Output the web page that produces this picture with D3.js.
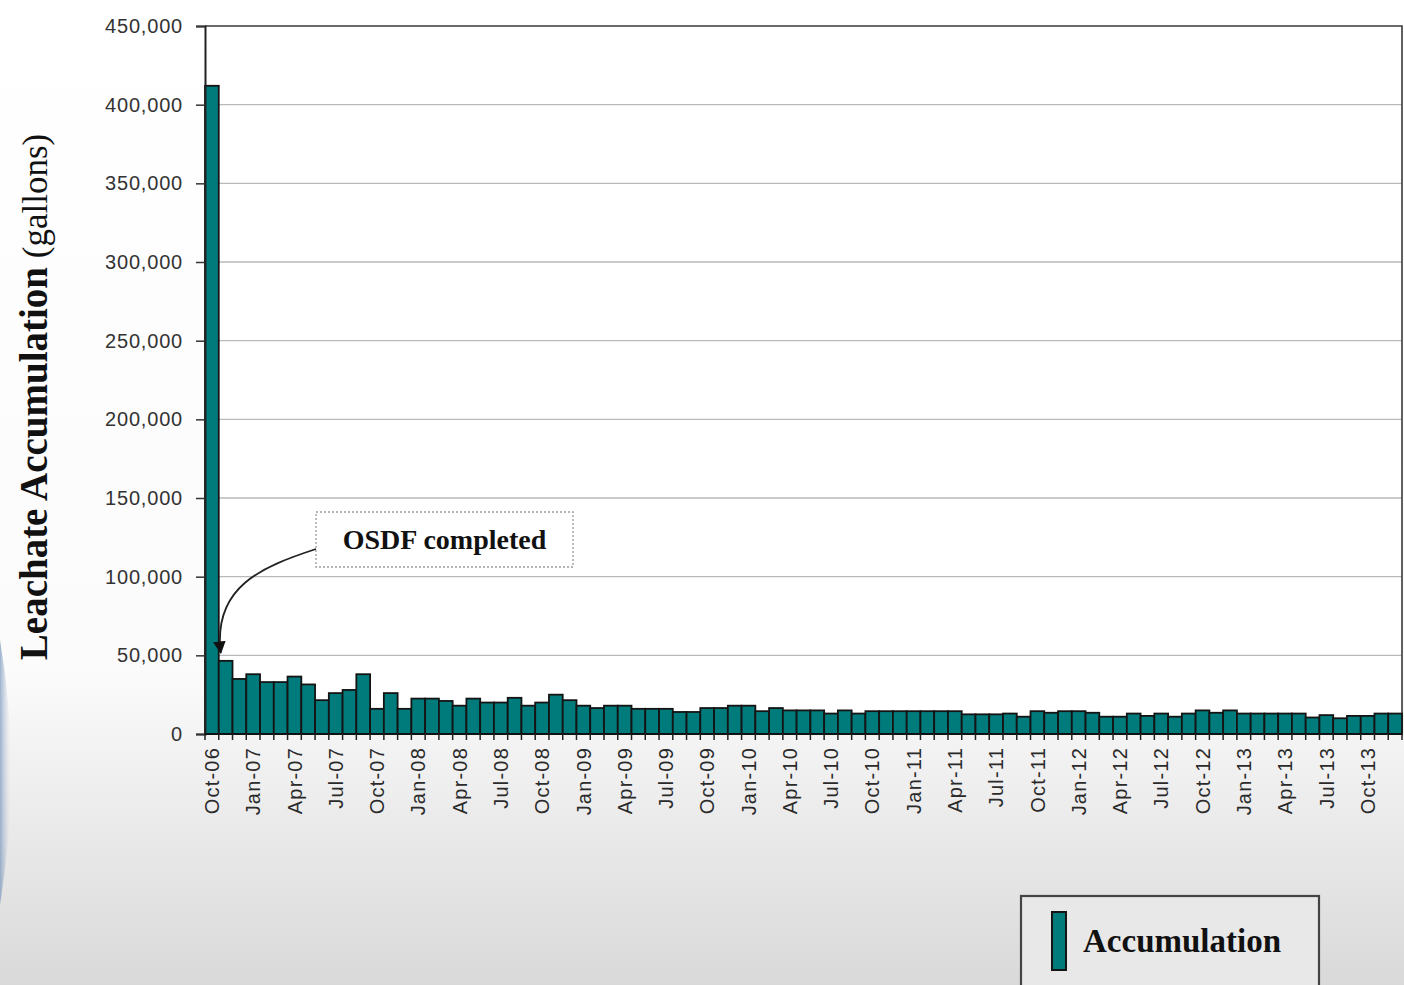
<!DOCTYPE html>
<html>
<head>
<meta charset="utf-8">
<script src="https://cdn.jsdelivr.net/npm/d3@7"></script>
<style>
  html, body { margin: 0; padding: 0; background: #fff; }
  svg { display: block; }
</style>
</head>
<body>
<svg id="chart" width="1404" height="985"></svg>
<script>
// months Oct-06 .. Dec-13
const monthNames = ["Jan","Feb","Mar","Apr","May","Jun","Jul","Aug","Sep","Oct","Nov","Dec"];
const months = d3.range(87).map(i => {
  const m = (9 + i) % 12;
  const yr = 6 + Math.floor((9 + i) / 12);
  return `${monthNames[m]}-${String(yr).padStart(2, "0")}`;
});

// gallons per month
const accumulation = [
  412000, 46500, 35000,                                                        // 2006
  38000, 33000, 33000, 36500, 31500, 21500, 26000, 28000, 38000, 16000, 26000, 16000, // 2007
  22500, 22500, 21000, 18000, 22500, 20000, 20000, 23000, 18000, 20000, 25000, 21500, // 2008
  18000, 16500, 18000, 18000, 16000, 16000, 16000, 14000, 14000, 16500, 16500, 18000, // 2009
  18000, 14500, 16500, 15000, 15000, 15000, 13000, 15000, 13000, 14500, 14500, 14500, // 2010
  14500, 14500, 14500, 14500, 12500, 12500, 12500, 13000, 11000, 14500, 13500, 14500, // 2011
  14500, 13500, 11000, 11000, 13000, 11500, 13000, 11000, 13000, 15000, 13500, 15000, // 2012
  13000, 13000, 13000, 13000, 13000, 10500, 12000, 10000, 11500, 11500, 13000, 13000  // 2013
];

const yTicks = [0, 50000, 100000, 150000, 200000, 250000, 300000, 350000, 400000, 450000];
const tickLabels = months.filter((d, i) => i % 3 === 0);

const annotation = { month: "Nov-06", text: "OSDF completed" };
const legendLabel = "Accumulation";

const teal = "#007b7b";
const svg = d3.select("#chart");

// page background (slide gradient)
const defs = svg.append("defs");
const bg = defs.append("linearGradient").attr("id", "bg").attr("x1", 0).attr("y1", 0).attr("x2", 0).attr("y2", 1);
bg.append("stop").attr("offset", "0%").attr("stop-color", "#ffffff");
bg.append("stop").attr("offset", "68%").attr("stop-color", "#fbfbfb");
bg.append("stop").attr("offset", "100%").attr("stop-color", "#d9d9d9");
const side = defs.append("linearGradient").attr("id", "side").attr("x1", 0).attr("y1", 0).attr("x2", 1).attr("y2", 0);
side.append("stop").attr("offset", "0%").attr("stop-color", "#6d8cb6").attr("stop-opacity", 0.65);
side.append("stop").attr("offset", "100%").attr("stop-color", "#c9d3e2").attr("stop-opacity", 0);

svg.append("rect").attr("width", 1404).attr("height", 985).attr("fill", "url(#bg)");
svg.append("path").attr("d", "M0,640 Q22,770 0,905 Z").attr("fill", "url(#side)");

const plot = { left: 205, right: 1402, top: 26, bottom: 734 };

const x = d3.scaleBand().domain(months).range([plot.left, plot.right]).padding(0);
const y = d3.scaleLinear().domain([0, 450000]).range([plot.bottom, plot.top]);

// plot area
svg.append("rect")
  .attr("x", plot.left).attr("y", plot.top)
  .attr("width", plot.right - plot.left).attr("height", plot.bottom - plot.top)
  .attr("fill", "#fff");

// gridlines
svg.append("g")
  .selectAll("line")
  .data(yTicks.slice(1, -1))
  .join("line")
  .attr("x1", plot.left).attr("x2", plot.right)
  .attr("y1", d => y(d)).attr("y2", d => y(d))
  .attr("stroke", "#b9b9b9")
  .attr("stroke-width", 1.3);

// top and right border
svg.append("path")
  .attr("d", `M${plot.left},${plot.top}H${plot.right}V${plot.bottom}`)
  .attr("fill", "none")
  .attr("stroke", "#3a3a3a")
  .attr("stroke-width", 1.6);

// bars
svg.append("g")
  .selectAll("rect")
  .data(months.map((m, i) => ({ month: m, value: accumulation[i] })))
  .join("rect")
  .attr("x", d => x(d.month))
  .attr("y", d => y(d.value))
  .attr("width", x.bandwidth())
  .attr("height", d => y(0) - y(d.value))
  .attr("fill", teal)
  .attr("stroke", "#141414")
  .attr("stroke-width", 1.8);

// y axis
const yAxis = svg.append("g")
  .attr("transform", `translate(${plot.left},0)`)
  .call(d3.axisLeft(y).tickValues(yTicks).tickSize(9).tickPadding(13).tickFormat(d3.format(",")));
yAxis.select(".domain").attr("stroke", "#222").attr("stroke-width", 2);
yAxis.selectAll(".tick line").attr("stroke", "#333").attr("stroke-width", 1.5);
yAxis.selectAll(".tick text")
  .attr("fill", "#333")
  .style("font-family", "'Liberation Sans', Arial, sans-serif")
  .style("font-size", "20px")
  .style("letter-spacing", "0.8px");

// x axis baseline + boundary ticks
const xAxis = svg.append("g").attr("transform", `translate(0,${plot.bottom})`);
xAxis.append("line")
  .attr("x1", plot.left).attr("x2", plot.right)
  .attr("stroke", "#111").attr("stroke-width", 2.2);
xAxis.append("g")
  .selectAll("line")
  .data(months.map(m => x(m)).concat([plot.right]))
  .join("line")
  .attr("x1", d => d).attr("x2", d => d)
  .attr("y1", 0).attr("y2", 6)
  .attr("stroke", "#222").attr("stroke-width", 1.5);

const xLabels = svg.append("g")
  .attr("transform", `translate(0,${plot.bottom})`)
  .call(d3.axisBottom(x).tickValues(tickLabels).tickSize(0));
xLabels.select(".domain").remove();
xLabels.selectAll(".tick text")
  .attr("transform", "rotate(-90)")
  .attr("x", -13)
  .attr("y", 0)
  .attr("dy", "0.36em")
  .attr("text-anchor", "end")
  .attr("fill", "#2a2a2a")
  .style("font-family", "'Liberation Sans', Arial, sans-serif")
  .style("font-size", "20px")
  .style("letter-spacing", "1.2px");

// y axis title
const title = svg.append("text")
  .attr("transform", "translate(47,397) rotate(-90)")
  .attr("text-anchor", "middle")
  .attr("fill", "#111")
  .style("font-family", "'Liberation Serif', 'Times New Roman', serif");
title.append("tspan").attr("font-weight", "bold").style("font-size", "39px").text("Leachate Accumulation");
title.append("tspan").style("font-size", "35px").text(" (gallons)");

// annotation
const box = { x: 316, y: 512, w: 257, h: 55 };
svg.append("rect")
  .attr("x", box.x).attr("y", box.y).attr("width", box.w).attr("height", box.h)
  .attr("fill", "#fff")
  .attr("stroke", "#9a9a9a")
  .attr("stroke-width", 1.3)
  .attr("stroke-dasharray", "2,2");
svg.append("text")
  .attr("x", box.x + box.w / 2).attr("y", box.y + box.h / 2)
  .attr("dy", "0.35em")
  .attr("text-anchor", "middle")
  .attr("fill", "#111")
  .attr("font-weight", "bold")
  .style("font-family", "'Liberation Serif', 'Times New Roman', serif")
  .style("font-size", "28px")
  .text(annotation.text);

defs.append("marker")
  .attr("id", "arrow")
  .attr("viewBox", "0 0 10 10")
  .attr("refX", 9).attr("refY", 5)
  .attr("markerWidth", 7).attr("markerHeight", 7)
  .attr("markerUnits", "strokeWidth")
  .attr("orient", "auto")
  .append("path").attr("d", "M0,0L10,5L0,10Z").attr("fill", "#111");

const tipX = x(annotation.month) + 2;
const tipY = y(46500) - 8;
svg.append("path")
  .attr("d", `M${box.x},${box.y + 37} C${box.x - 55},${box.y + 55} ${tipX - 8},${box.y + 75} ${tipX},${tipY}`)
  .attr("fill", "none")
  .attr("stroke", "#222")
  .attr("stroke-width", 1.8)
  .attr("marker-end", "url(#arrow)");

// legend
const lg = svg.append("g").attr("transform", "translate(1021,896)");
lg.append("rect")
  .attr("width", 298).attr("height", 100)
  .attr("fill", "#e8e8e8")
  .attr("stroke", "#444")
  .attr("stroke-width", 2.2);
lg.append("rect")
  .attr("x", 31).attr("y", 16).attr("width", 14).attr("height", 58)
  .attr("fill", teal)
  .attr("stroke", "#141414")
  .attr("stroke-width", 2);
lg.append("text")
  .attr("x", 62).attr("y", 56)
  .attr("fill", "#111")
  .attr("font-weight", "bold")
  .style("font-family", "'Liberation Serif', 'Times New Roman', serif")
  .style("font-size", "33px")
  .text(legendLabel);
</script>
</body>
</html>
